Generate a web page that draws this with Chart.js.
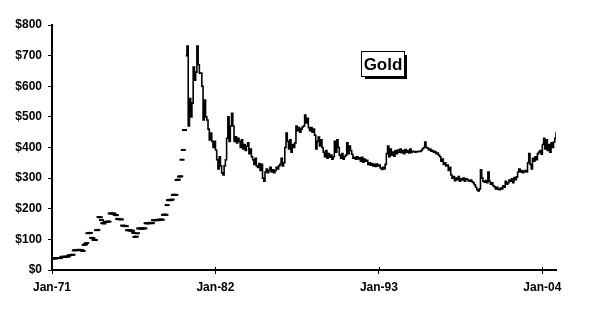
<!DOCTYPE html>
<html>
<head>
<meta charset="utf-8">
<script src="https://cdn.jsdelivr.net/npm/chart.js@4.4.0/dist/chart.umd.min.js"></script>
<style>
  body { margin: 0; background: #fff; }
  canvas { display: block; }
</style>
</head>
<body>
<canvas id="myChart" width="592" height="312"></canvas>
<script>
// monthly gold price, first month = Jan 1971
const startYear = 1971;

// Jan-71 .. Dec-79, shown as loose dashes
const earlyPrices = [
  38, 38, 38, 38, 39, 39, 39, 39, 43, 43, 43, 43,
  44, 44, 48, 49, 49, 50, 64, 65, 65, 65, 66, 65,
  65, 62, 82, 84, 88, 120, 121, 121, 105, 104, 98, 98,
  130, 131, 173, 172, 163, 153, 152, 157, 157, 158, 158, 185,
  184, 185, 184, 180, 179, 167, 166, 166, 165, 145, 144, 144,
  143, 130, 130, 129, 129, 128, 121, 108, 109, 120, 136, 135,
  136, 135, 136, 136, 153, 152, 153, 154, 153, 153, 163, 162,
  163, 164, 163, 164, 165, 164, 180, 181, 180, 212, 228, 229,
  228, 230, 245, 246, 245, 294, 295, 305, 306, 360, 392, 457
];

// Jan-80 .. Dec-04, drawn as a line
const latePrices = [
  700, 731, 470, 560, 500, 545, 663, 620, 646, 731, 670, 643,
  643, 600, 490, 555, 500, 490, 460, 425, 447, 420, 400, 420,
  392, 360, 330, 370, 340, 317, 310, 340, 360, 430, 500, 420,
  470, 512, 470, 420, 435, 415, 430, 420, 400, 425, 395, 410,
  390, 405, 415, 380, 395, 370, 360, 345, 365, 340, 335, 348,
  325, 345, 300, 290, 320, 330, 318, 325, 335, 320, 327, 318,
  325, 335, 330, 340, 345, 365, 340, 350, 400, 447, 420, 395,
  425, 385, 410, 400, 415, 470, 455, 465, 450, 460, 467, 470,
  506, 480, 495, 465, 455, 465, 450, 460, 440, 395, 420, 434,
  405, 425, 400, 385, 370, 390, 365, 380, 368, 375, 362, 370,
  420, 385, 425, 400, 375, 365, 380, 362, 370, 375, 415, 380,
  405, 390, 378, 365, 368, 362, 370, 363, 366, 355, 368, 352,
  362, 355, 358, 345, 350, 342, 348, 340, 345, 338, 346, 340,
  343, 333, 328, 335, 330, 345, 380, 405, 370, 395, 375, 385,
  372, 390, 380, 392, 385, 395, 383, 390, 380, 393, 385, 390,
  382, 395, 384, 388, 387, 385, 387, 386, 388, 387, 390, 396,
  400, 418, 400, 398, 392, 395, 388, 390, 385, 387, 380, 382,
  375, 370, 355, 362, 345, 350, 340, 343, 325, 335, 310, 300,
  305, 292, 300, 295, 305, 290, 298, 294, 300, 290, 298, 296,
  292, 290, 294, 288, 285, 278, 270, 262, 258, 265, 327, 300,
  290, 287, 292, 285, 320, 290, 280, 285, 275, 272, 265, 270,
  264, 262, 268, 265, 275, 270, 290, 280, 285, 294, 290, 298,
  285, 302, 295, 304, 320, 330, 320, 325, 318, 322, 325, 320,
  350, 380, 345, 330, 365, 355, 370, 360, 380, 385, 390, 378,
  410, 430, 395, 425, 390, 410, 385, 415, 400, 418, 430, 450
];

const xTickYears = [1971, 1982, 1993, 2004];
const xTickLabels = ['Jan-71', 'Jan-82', 'Jan-93', 'Jan-04'];
const yTicks = [0, 100, 200, 300, 400, 500, 600, 700, 800];
const chartTitle = 'Gold';

const toPoints = (arr, offset) => arr.map((v, i) => ({ x: startYear + (offset + i) / 12, y: v }));
const lastMonth = earlyPrices.length + latePrices.length - 1;

const labelFont = { family: '"Liberation Sans", Arial, sans-serif', size: 12, weight: 'bold' };

// boxed title with drop shadow + small inner tick marks on x axis
const extras = {
  id: 'extras',
  afterDraw(chart) {
    const c = chart.ctx;
    const x = chart.scales.x;
    const area = chart.chartArea;
    c.save();
    c.strokeStyle = '#000';
    c.lineWidth = 1;
    xTickYears.forEach(v => {
      const px = Math.round(x.getPixelForValue(v)) + 0.5;
      c.beginPath();
      c.moveTo(px, area.bottom - 3);
      c.lineTo(px, area.bottom);
      c.stroke();
    });

    const bx = 362, by = 52, bw = 42, bh = 24;
    c.fillStyle = '#000';
    c.fillRect(bx + 3, by + 3, bw, bh);
    c.fillStyle = '#fff';
    c.fillRect(bx, by, bw, bh);
    c.strokeRect(bx - 0.5, by - 0.5, bw + 1, bh + 1);
    c.fillStyle = '#000';
    c.font = 'bold 17px "Liberation Sans", Arial, sans-serif';
    c.textAlign = 'center';
    c.textBaseline = 'middle';
    c.fillText(chartTitle, bx + bw / 2, by + bh / 2 + 1);
    c.restore();
  }
};

new Chart(document.getElementById('myChart'), {
  type: 'line',
  data: {
    datasets: [{
      data: toPoints(earlyPrices, 0),
      showLine: false,
      pointStyle: 'line',
      pointRadius: 2.5,
      pointBorderWidth: 2,
      borderColor: '#000',
      backgroundColor: '#000',
      pointHoverRadius: 0
    }, {
      data: toPoints(latePrices, earlyPrices.length),
      stepped: true,
      borderColor: '#000',
      borderWidth: 1.6,
      pointRadius: 0,
      pointHoverRadius: 0,
      fill: false
    }]
  },
  plugins: [extras],
  options: {
    responsive: false,
    animation: false,
    layout: { padding: { top: 25, right: 36, left: 0, bottom: 0 } },
    plugins: { legend: { display: false }, tooltip: { enabled: false } },
    scales: {
      x: {
        type: 'linear',
        min: startYear,
        max: startYear + lastMonth / 12,
        afterBuildTicks: scale => { scale.ticks = xTickYears.map(v => ({ value: v })); },
        afterFit: scale => { scale.height = 42; },
        ticks: {
          autoSkip: false,
          maxRotation: 0,
          color: '#000',
          font: labelFont,
          padding: 6,
          callback: v => xTickLabels[xTickYears.indexOf(v)]
        },
        grid: { drawOnChartArea: false, drawTicks: true, tickLength: 4, color: '#000', lineWidth: 1 },
        border: { color: '#000', width: 2 }
      },
      y: {
        min: 0,
        max: 800,
        afterBuildTicks: scale => { scale.ticks = yTicks.map(v => ({ value: v })); },
        afterFit: scale => { scale.width = 52; },
        ticks: {
          color: '#000',
          font: labelFont,
          padding: 6,
          callback: v => '$' + v
        },
        grid: { drawOnChartArea: false, drawTicks: true, tickLength: 4, color: '#000', lineWidth: 1 },
        border: { color: '#000', width: 2 }
      }
    }
  }
});
</script>
</body>
</html>
